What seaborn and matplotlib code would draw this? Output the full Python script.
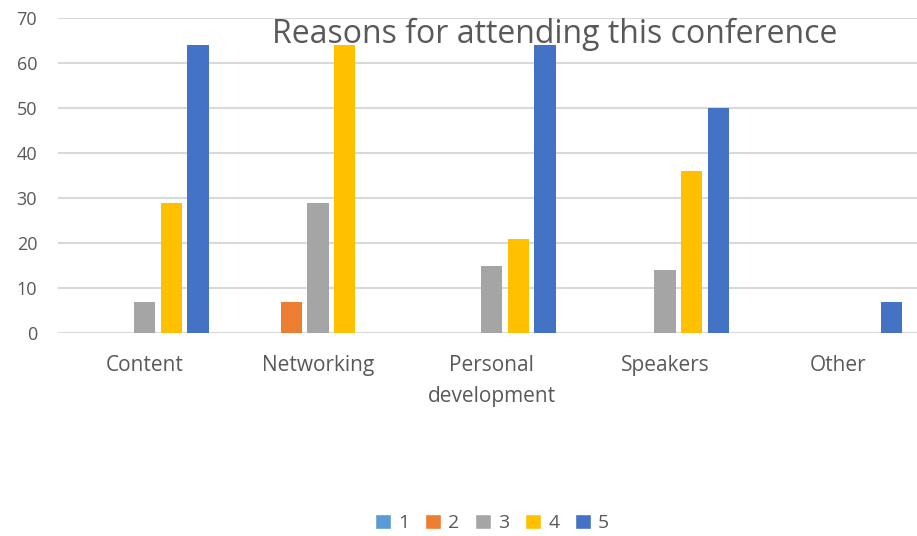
import matplotlib
matplotlib.use("Agg")
import matplotlib.pyplot as plt
import seaborn as sns
import pandas as pd
from matplotlib.patches import Patch

categories = ["Content", "Networking", "Personal\ndevelopment", "Speakers", "Other"]
ratings = ["1", "2", "3", "4", "5"]
values_1 = [0, 0, 0, 0, 0]
values_2 = [0, 7, 0, 0, 0]
values_3 = [7, 29, 15, 14, 0]
values_4 = [29, 64, 21, 36, 0]
values_5 = [64, 0, 64, 50, 7]
colors = ["#5B9BD5", "#ED7D31", "#A5A5A5", "#FFC000", "#4472C4"]

series = [values_1, values_2, values_3, values_4, values_5]
rows = []
for r, vals in zip(ratings, series):
    for c, v in zip(categories, vals):
        rows.append({"category": c, "rating": r, "value": v})
df = pd.DataFrame(rows)

sns.set_theme(style="white")
plt.rcParams["font.family"] = ["Open Sans", "DejaVu Sans"]

fig = plt.figure(figsize=(9.17, 5.36), dpi=100)
ax = fig.add_axes([58/917, 1-333/536, 867/917, (333-18)/536])

sns.barplot(data=df, x="category", y="value", hue="rating", order=categories,
            hue_order=ratings, palette=colors, width=0.77, gap=0.2,
            saturation=1, linewidth=0, ax=ax, legend=False)

ax.set_ylim(0, 70)
ax.set_yticks(range(0, 71, 10))
ax.set_xlim(-0.5, 4.5)
ax.yaxis.grid(True, color="#D9D9D9", linewidth=1.5)
ax.set_axisbelow(True)
for s in ax.spines.values():
    s.set_visible(False)
ax.set_xlabel("")
ax.set_ylabel("")
ax.tick_params(axis="both", length=0, colors="#595959")
ax.tick_params(axis="y", labelsize=13, pad=15)
ax.tick_params(axis="x", labelsize=15, pad=16)
for lbl in ax.get_xticklabels():
    lbl.set_linespacing(1.6)

fig.text(555/917, 1-34/536, "Reasons for attending this conference",
         ha="center", va="center", fontsize=23, color="#595959")

handles = [Patch(facecolor=c, label=r) for c, r in zip(colors, ratings)]
fig.legend(handles=handles, loc="center", bbox_to_anchor=(492/917, 1-523/536),
           ncol=5, frameon=False, fontsize=14, handlelength=0.85,
           handleheight=0.85, handletextpad=0.35, columnspacing=0.8,
           labelcolor="#595959")

fig.savefig("out.png", dpi=100)
